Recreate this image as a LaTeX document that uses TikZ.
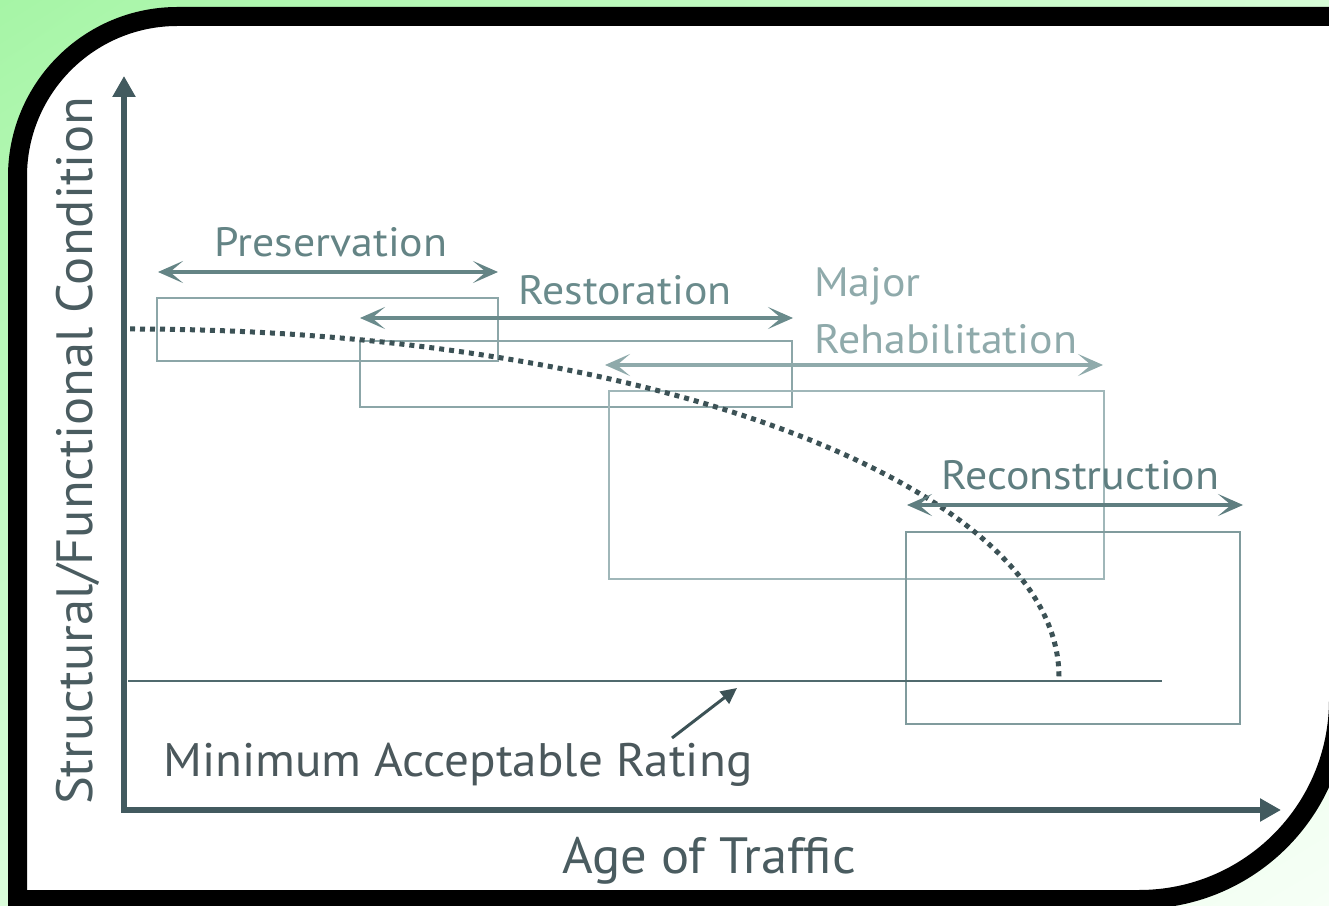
\documentclass[tikz,border=0pt]{standalone}
\usepackage{fontspec}
\setmainfont{PT Sans}
\newfontfamily\lblfont{PT Sans}[FakeStretch=1.07]
\newfontfamily\minfont{PT Sans}[FakeStretch=1.045]
\newfontfamily\axfont{PT Sans}[FakeStretch=1.03]
\usetikzlibrary{arrows.meta,shadings}
\definecolor{axiscol}{HTML}{425A5F}
\definecolor{curvecol}{HTML}{3C5256}
\definecolor{mincol}{HTML}{506A6E}
\definecolor{ylabcol}{HTML}{4A5C60}
\definecolor{mintext}{HTML}{4B585C}
\definecolor{presc}{HTML}{648485}
\definecolor{restc}{HTML}{6A8B8C}
\definecolor{majc}{HTML}{8FAAAB}
\definecolor{recc}{HTML}{5F7E80}
\definecolor{boxa}{HTML}{8CA6A8}
\definecolor{boxb}{HTML}{A0B7B9}
\definecolor{boxc}{HTML}{809B9D}
\definecolor{gA}{HTML}{A6F5A6}
\definecolor{gB}{HTML}{D6FDD6}
\definecolor{gC}{HTML}{DAFCDA}
\definecolor{gD}{HTML}{F6FFF6}
\begin{document}
\begin{tikzpicture}[x=1pt,y=1pt,
  lbl/.style={font=\lblfont\fontsize{41}{48}\selectfont, inner sep=0pt, anchor=base},
  minlbl/.style={font=\minfont\fontsize{47}{56}\selectfont, inner sep=0pt, anchor=base},
  axlbl/.style={font=\axfont\fontsize{51}{60}\selectfont, inner sep=0pt, anchor=base},
  rangetip/.style={},
  rangearrow/.style={line width=3.5pt, {Stealth[length=25pt,width=22pt,inset=13pt]}-{Stealth[length=25pt,width=22pt,inset=13pt]}},
  phasebox/.style={line width=1.5pt},
  axisline/.style={line width=5.5pt, axiscol, line join=miter, {Triangle[length=21pt,width=22pt]}-{Triangle[length=21pt,width=22pt]}}
]
\useasboundingbox (0,0) rectangle (1329,905);
\clip (0,0) rectangle (1329,905);
% background
\shade[upper left=gA, upper right=gB, lower left=gC, lower right=gD] (0,0) rectangle (1329,905);
% frame
\draw[line width=19pt, fill=white] (17.5,5.5) -- (17.5,728.5) arc[start angle=180, end angle=90, radius=160] -- (1338.5,888.5) -- (1338.5,205) arc[start angle=0, end angle=-90, radius=199.5] -- cycle;

% boxes
\draw[phasebox, boxa] (157,544) rectangle (498,607);
\draw[phasebox, boxa] (360,498) rectangle (792,564);
\draw[phasebox, boxb] (609,326) rectangle (1104,514);
\draw[phasebox, boxc] (906,181) rectangle (1240,373);

% minimum line
\coordinate (minL) at (128,224);
\coordinate (minR) at (1162,224);
\draw[line width=2pt, mincol] (minL) -- (minR);

% curve
\coordinate (cstart) at (130,576);
\draw[line width=5pt, curvecol, dash pattern=on 5pt off 5pt] (cstart) arc[start angle=90, end angle=0, x radius=929, y radius=348];

% range arrows
\coordinate (presL) at (158,633); \coordinate (presR) at (498,633);
\coordinate (restL) at (360,587); \coordinate (restR) at (793,587);
\coordinate (majL) at (605,540); \coordinate (majR) at (1103,540);
\coordinate (recL) at (907,400); \coordinate (recR) at (1243,400);
\draw[rangearrow, presc] (presL) -- (presR);
\draw[rangearrow, restc] (restL) -- (restR);
\draw[rangearrow, majc] (majL) -- (majR);
\draw[rangearrow, recc] (recL) -- (recR);

% labels
\node[lbl, text=presc] (pres) at (331,648) {Preservation};
\node[lbl, text=restc] (rest) at (625,600) {Restoration};
\node[lbl, text=majc, anchor=base west] (maj) at (814,608) {Major};
\node[lbl, text=majc, anchor=base west] (rehab) at (814,551) {Rehabilitation};
\node[lbl, text=recc] (rec) at (1080.5,415) {Reconstruction};
\node[minlbl, text=mintext, anchor=base west] (minlab) at (163,129) {Minimum Acceptable Rating};
\node[axlbl, text=ylabcol] (age) at (709,32) {Age of Traffic};
\node[axlbl, text=ylabcol, rotate=90] (ylab) at (92,454) {Structural/Functional Condition};

% pointer
\coordinate (ptrS) at (672,167);
\coordinate (ptrE) at (737,217);
\draw[line width=3pt, curvecol, -{Triangle[length=16pt,width=15pt]}] (ptrS) -- (ptrE);

% axes
\coordinate (ytop) at (124,829);
\coordinate (origin) at (124,95);
\coordinate (xend) at (1281,95);
\draw[axisline] (ytop) -- (origin) -- (xend);
\end{tikzpicture}
\end{document}
